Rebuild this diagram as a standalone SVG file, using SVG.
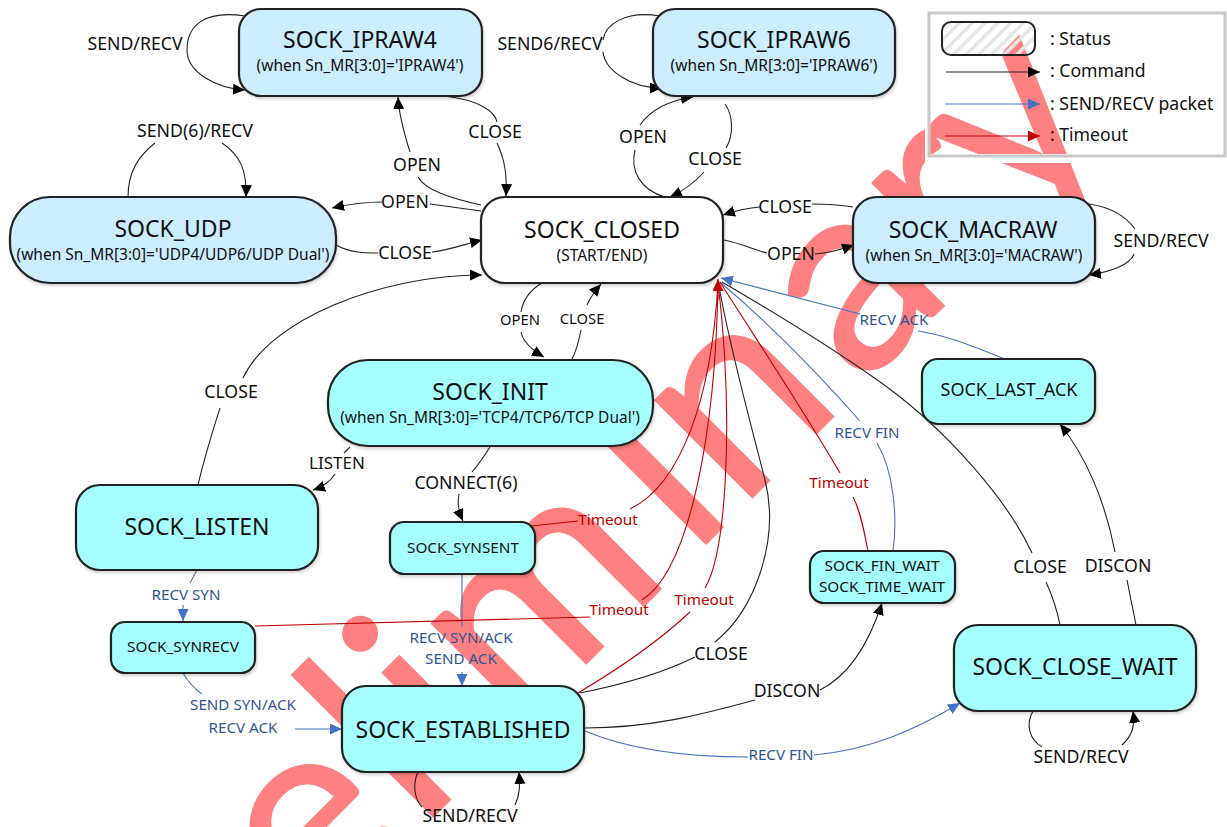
<svg xmlns="http://www.w3.org/2000/svg" width="1227" height="827" viewBox="0 0 1227 827">
<style>
text{font-family:"Noto Sans","Open Sans","Liberation Sans",sans-serif;fill:#111;text-anchor:middle}
.wm{font-family:Lato,"Noto Sans",sans-serif;font-size:272px;fill:#ff8080;stroke:#ff8080;stroke-width:1.5;text-anchor:start}
.n{stroke:#222;stroke-width:2.2;filter:url(#sh)}
.b{fill:#ccecff}.c{fill:#a6ffff}.w{fill:#fff}
.t1{font-size:23px}.t2{font-size:18px}.t3{font-size:15.5px}
.s{font-size:15.3px}.s2{font-size:14.8px}
.l{font-size:17.7px}.lb{font-size:15.2px;fill:#2f5597}.lr{font-size:15.3px;fill:#c00000}
.lg{font-size:17.6px;text-anchor:start}
path{fill:none}
.k{stroke:#222;stroke-width:1.1}.u{stroke:#4472c4;stroke-width:1.1}.r{stroke:#c00000;stroke-width:1.1}
.ka{marker-end:url(#ak)}.ua{marker-end:url(#au)}.ra{marker-end:url(#ar)}
</style>
<defs>
<marker id="ak" markerUnits="userSpaceOnUse" markerWidth="14" markerHeight="12" refX="12" refY="5.5" orient="auto"><polygon points="0,0 12,5.5 0,11" fill="#000"/></marker>
<marker id="au" markerUnits="userSpaceOnUse" markerWidth="14" markerHeight="12" refX="12" refY="5.5" orient="auto"><polygon points="0,0 12,5.5 0,11" fill="#4472c4"/></marker>
<marker id="ar" markerUnits="userSpaceOnUse" markerWidth="14" markerHeight="12" refX="12" refY="5.5" orient="auto"><polygon points="0,0 12,5.5 0,11" fill="#c00000"/></marker>
<pattern id="hatch" patternUnits="userSpaceOnUse" width="9" height="9" patternTransform="rotate(-45)"><rect width="9" height="3.5" fill="#e6e6e6"/></pattern>
<filter id="sh" x="-5%" y="-5%" width="110%" height="115%"><feDropShadow dx="1" dy="2" stdDeviation="1.5" flood-color="#000" flood-opacity="0.18"/></filter>
</defs>

<rect width="1227" height="827" fill="#fff"/>
<text class="wm" transform="translate(625 625) rotate(-45)" x="-694 -536 -438 -291 -226 -155 94 161 334 468 557" y="0">Preliminary</text>

<g id="connectors">
<path class="k ka" d="M245,16C205,10 187,25 187,50C187,72 215,88 245,90"/>
<path class="k" d="M660,16C625,10 605,25 603,40"/><path class="k ka" d="M603,52C605,70 630,88 662,88"/>
<path class="k" d="M481,205C450,198 425,190 418,177"/><path class="k ka" d="M410,152C403,130 399,115 398,97"/>
<path class="k" d="M444,96C480,100 495,112 497,122"/><path class="k ka" d="M497,143C505,160 507,175 506,196"/>
<path class="k" d="M665,197C640,190 630,170 635,150"/><path class="k ka" d="M640,125C650,110 670,100 693,97"/>
<path class="k" d="M725,104C733,115 734,135 726,148"/><path class="k ka" d="M704,172C697,180 685,190 670,197"/>
<path class="k" d="M128,197C128,170 140,155 155,143"/><path class="k ka" d="M222,143C240,155 247,170 246,197"/>
<path class="k" d="M481,211L430,204"/><path class="k ka" d="M382,202C365,202 350,204 332,208"/>
<path class="k" d="M336,245C350,253 365,253 378,253"/><path class="k ka" d="M432,252C450,250 465,244 482,240"/>
<path class="k" d="M853,207C835,204 825,204 812,204"/><path class="k ka" d="M760,207C745,208 735,211 723,215"/>
<path class="k" d="M724,240C740,243 755,250 767,253"/><path class="k ka" d="M815,254C830,253 840,250 854,245"/>
<path class="k" d="M1089,204C1110,207 1125,215 1135,229"/><path class="k ka" d="M1134,254C1130,265 1110,272 1089,275"/>
<path class="k" d="M542,283C530,290 523,300 521,312"/><path class="k ka" d="M521,332C523,342 532,350 544,357"/>
<path class="k" d="M572,359C577,350 579,340 581,330"/><path class="k ka" d="M587,305C590,298 595,291 601,284"/>
<path class="k" d="M198,485C205,455 213,430 220,408"/><path class="k ka" d="M243,378C270,320 380,275 482,275"/>
<path class="k" d="M350,447L344,453"/><path class="k ka" d="M335,474C330,482 322,487 313,490"/>
<path class="k" d="M490,447C485,455 478,465 472,472"/><path class="k ka" d="M459,494C457,505 459,512 463,521"/>
<path class="u" d="M197,570L190,583"/><path class="u ua" d="M183,605L183,621"/>
<path class="u" d="M183,673C188,682 195,689 202,694"/><path class="u ua" d="M295,729L342,729"/>
<path class="u" d="M462,574L462,627"/><path class="u ua" d="M462,672L462,686"/>
<path class="u" d="M1005,359C970,345 945,335 918,331"/><path class="u ua" d="M860,314L721,278"/>
<path class="u" d="M893,551C898,515 893,470 877,443"/><path class="u" d="M860,421C815,370 765,320 720,282"/>
<path class="k" d="M1060,625C1057,610 1052,595 1046,582"/><path class="k" d="M1032,553C1010,505 950,430 873,377C820,340 770,310 722,282"/>
<path class="k" d="M580,693C620,685 665,672 695,657"/><path class="k" d="M715,642C755,610 780,540 765,480C750,420 730,350 718,281"/>
<path class="r" d="M531,526L578,521"/><path class="r" d="M630,509C680,485 712,400 718,281"/>
<path class="r" d="M255,626L590,617"/><path class="r" d="M642,600C690,570 716,430 718,281"/>
<path class="r" d="M578,693C620,668 660,640 690,612"/><path class="r" d="M705,588C725,555 735,430 718,281"/>
<path class="r" d="M868,551C864,530 860,510 853,497"/><path class="r" d="M840,473C800,405 760,345 720,282"/>
<path class="r ra" d="M718,300L718,279"/>
<path class="k" d="M1136,625C1133,610 1130,595 1127,580"/><path class="k ka" d="M1115,552C1105,500 1085,455 1060,424"/>
<path class="k" d="M585,728C650,728 700,715 755,700"/><path class="k ka" d="M820,690C850,675 870,640 882,603"/>
<path class="u" d="M585,731C630,750 690,757 748,757"/><path class="u ua" d="M814,755C870,750 915,730 960,703"/>
<path class="k" d="M418,772C412,785 415,800 422,807"/><path class="k ka" d="M515,805C520,795 520,785 519,772"/>
<path class="k" d="M1033,711C1025,725 1030,740 1042,747"/><path class="k ka" d="M1122,745C1133,735 1135,725 1133,711"/>
</g>

<g id="connector-labels">
<text class="l" x="135" y="50">SEND/RECV</text>
<text class="l" x="550" y="50">SEND6/RECV</text>
<text class="l" x="495" y="138">CLOSE</text>
<text class="l" x="417" y="171">OPEN</text>
<text class="l" x="643" y="143">OPEN</text>
<text class="l" x="715" y="165">CLOSE</text>
<text class="l" x="195" y="137">SEND(6)/RECV</text>
<text class="l" x="405" y="208">OPEN</text>
<text class="l" x="405" y="259">CLOSE</text>
<text class="l" x="785" y="213">CLOSE</text>
<text class="l" x="791" y="260">OPEN</text>
<text class="l" x="1161" y="247">SEND/RECV</text>
<text class="s2" x="520" y="325">OPEN</text>
<text class="s2" x="582" y="324">CLOSE</text>
<text class="l" x="231" y="398">CLOSE</text>
<text class="l" x="337" y="469" style="font-size:17px">LISTEN</text>
<text class="l" x="466" y="489">CONNECT(6)</text>
<text class="lb" x="186" y="600">RECV SYN</text>
<text class="lb" x="243" y="710">SEND SYN/ACK</text>
<text class="lb" x="243" y="733">RECV ACK</text>
<text class="lb" x="461" y="643">RECV SYN/ACK</text>
<text class="lb" x="461" y="664">SEND ACK</text>
<text class="lr" x="608" y="525">Timeout</text>
<text class="lr" x="619" y="615">Timeout</text>
<text class="lr" x="704" y="605">Timeout</text>
<text class="lr" x="839" y="488">Timeout</text>
<text class="lb" x="867" y="438">RECV FIN</text>
<text class="lb" x="894" y="325">RECV ACK</text>
<text class="lb" x="781" y="760">RECV FIN</text>
<text class="l" x="721" y="660">CLOSE</text>
<text class="l" x="787" y="697">DISCON</text>
<text class="l" x="1040" y="573">CLOSE</text>
<text class="l" x="1118" y="572">DISCON</text>
<text class="l" x="470" y="821.5">SEND/RECV</text>
<text class="l" x="1081" y="763">SEND/RECV</text>
</g>

<g id="sock_ipraw4"><rect class="n b" x="239" y="9" width="243" height="87" rx="22"/><text class="t1" x="360" y="48">SOCK_IPRAW4</text><text class="t3" x="360" y="71">(when Sn_MR[3:0]='IPRAW4')</text></g>
<g id="sock_ipraw6"><rect class="n b" x="653" y="9" width="242" height="87" rx="22"/><text class="t1" x="774" y="48">SOCK_IPRAW6</text><text class="t3" x="774" y="71">(when Sn_MR[3:0]='IPRAW6')</text></g>
<g id="sock_udp"><rect class="n b" x="10" y="197" width="326" height="86" rx="40"/><text class="t1" x="173" y="237">SOCK_UDP</text><text class="t3" x="173" y="260">(when Sn_MR[3:0]='UDP4/UDP6/UDP Dual')</text></g>
<g id="sock_closed"><rect class="n w" x="481" y="197" width="242" height="86" rx="24"/><text class="t1" x="602" y="238">SOCK_CLOSED</text><text class="t3" x="602" y="261">(START/END)</text></g>
<g id="sock_macraw"><rect class="n b" x="853" y="197" width="242" height="86" rx="24"/><text class="t1" x="973" y="238">SOCK_MACRAW</text><text class="t3" x="974" y="261">(when Sn_MR[3:0]='MACRAW')</text></g>
<g id="sock_init"><rect class="n c" x="328" y="360" width="325" height="86" rx="40"/><text class="t1" x="490" y="400">SOCK_INIT</text><text class="t3" x="490" y="423">(when Sn_MR[3:0]='TCP4/TCP6/TCP Dual')</text></g>
<g id="sock_listen"><rect class="n c" x="76" y="485" width="242" height="85" rx="24"/><text class="t1" x="197" y="535">SOCK_LISTEN</text></g>
<g id="sock_synsent"><rect class="n c" x="390" y="522" width="145" height="52" rx="14"/><text class="s" x="463" y="553">SOCK_SYNSENT</text></g>
<g id="sock_synrecv"><rect class="n c" x="111" y="622" width="144" height="51" rx="14"/><text class="s" x="183" y="652">SOCK_SYNRECV</text></g>
<g id="sock_established"><rect class="n c" x="342" y="686" width="242" height="86" rx="24"/><text class="t1" x="463" y="738">SOCK_ESTABLISHED</text></g>
<g id="sock_fin_wait"><rect class="n c" x="810" y="551" width="145" height="52" rx="14"/><text class="s" x="882" y="571">SOCK_FIN_WAIT</text><text class="s" x="882" y="592">SOCK_TIME_WAIT</text></g>
<g id="sock_last_ack"><rect class="n c" x="922" y="359" width="173" height="65" rx="16"/><text class="t2" x="1009" y="396">SOCK_LAST_ACK</text></g>
<g id="sock_close_wait"><rect class="n c" x="954" y="625" width="242" height="86" rx="24"/><text class="t1" x="1075" y="675">SOCK_CLOSE_WAIT</text></g>

<g id="legend">
<rect x="925" y="13" width="5" height="150" fill="#fff"/>
<rect x="925" y="154" width="302" height="9" fill="#fff"/>
<rect x="929" y="13" width="296" height="143" fill="none" stroke="#c8c8c8" stroke-width="3"/>
<rect x="942" y="22" width="93" height="33" rx="9" fill="url(#hatch)" stroke="#222" stroke-width="2"/>
<path class="k ka" d="M946,72L1040,72"/>
<path class="u ua" d="M945,104L1040,104"/>
<path class="r ra" d="M945,136L1040,136"/>
<text class="lg" x="1050" y="45">: Status</text>
<text class="lg" x="1050" y="77">: Command</text>
<text class="lg" x="1050" y="110">: SEND/RECV packet</text>
<text class="lg" x="1050" y="141">: Timeout</text>
</g>
</svg>
